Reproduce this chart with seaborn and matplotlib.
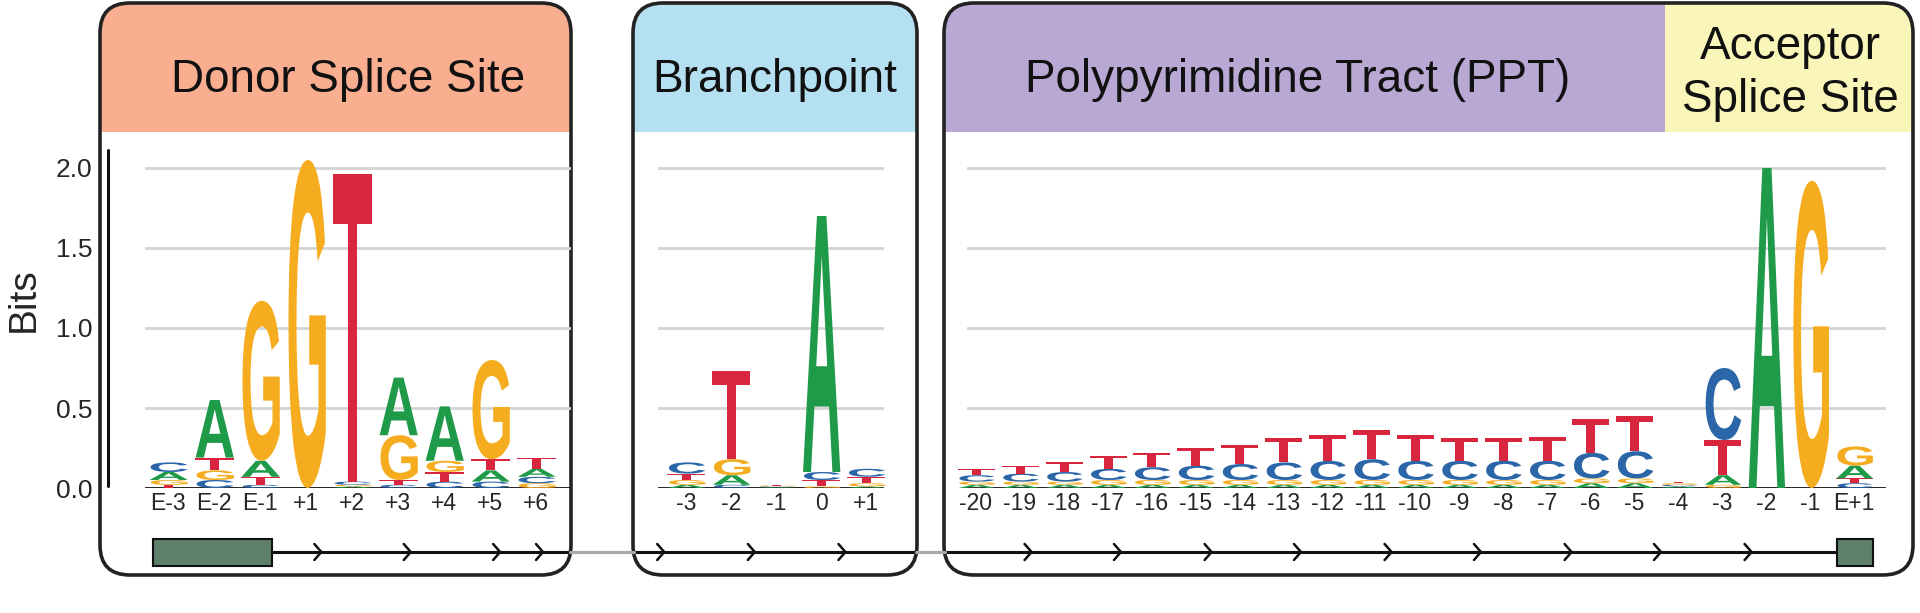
import numpy as np
import matplotlib
matplotlib.use("Agg")
import matplotlib.pyplot as plt
import seaborn as sns
from matplotlib.textpath import TextPath
from matplotlib.font_manager import FontProperties
from matplotlib.patches import PathPatch, FancyBboxPatch, Rectangle
from matplotlib.transforms import Affine2D

# ---------------- data (bits per base) ----------------
donor_pos = ["E-3", "E-2", "E-1", "+1", "+2", "+3", "+4", "+5", "+6"]
donor_A = [0.05, 0.36, 0.10, 0.00, 0.01, 0.36, 0.34, 0.07, 0.05]
donor_C = [0.06, 0.05, 0.02, 0.00, 0.02, 0.02, 0.04, 0.04, 0.04]
donor_G = [0.03, 0.06, 1.00, 2.05, 0.01, 0.28, 0.07, 0.62, 0.03]
donor_T = [0.02, 0.08, 0.05, 0.00, 1.92, 0.03, 0.06, 0.07, 0.07]

branch_pos = ["-3", "-2", "-1", "0", "+1"]
branch_A = [0.02, 0.06, 0.005, 1.60, 0.01]
branch_C = [0.07, 0.02, 0.005, 0.05, 0.05]
branch_G = [0.03, 0.10, 0.005, 0.01, 0.02]
branch_T = [0.04, 0.55, 0.005, 0.04, 0.04]

ppt_pos = ["-20", "-19", "-18", "-17", "-16", "-15", "-14", "-13", "-12", "-11",
           "-10", "-9", "-8", "-7", "-6", "-5", "-4", "-3", "-2", "-1", "E+1"]
ppt_A = [0.02, 0.02, 0.02, 0.02, 0.02, 0.02, 0.02, 0.02, 0.02, 0.02,
         0.02, 0.02, 0.02, 0.02, 0.03, 0.03, 0.01, 0.06, 2.00, 0.00, 0.08]
ppt_C = [0.04, 0.05, 0.06, 0.07, 0.08, 0.09, 0.10, 0.11, 0.12, 0.13,
         0.12, 0.12, 0.12, 0.12, 0.16, 0.17, 0.01, 0.45, 0.00, 0.00, 0.03]
ppt_G = [0.02, 0.02, 0.02, 0.03, 0.03, 0.03, 0.03, 0.03, 0.03, 0.03,
         0.03, 0.03, 0.03, 0.03, 0.03, 0.03, 0.01, 0.02, 0.00, 1.92, 0.12]
ppt_T = [0.04, 0.05, 0.06, 0.08, 0.09, 0.11, 0.12, 0.15, 0.16, 0.18,
         0.16, 0.14, 0.14, 0.15, 0.21, 0.22, 0.01, 0.22, 0.00, 0.00, 0.03]

y_ticks = [0.0, 0.5, 1.0, 1.5, 2.0]

# ---------------- style ----------------
sns.set_theme(style="white")
pal = sns.color_palette(["#1E9A48", "#2B66A8", "#F5AC1E", "#D7263D"])
COL = dict(zip("ACGT", pal))
FONT = "Liberation Sans"
fp = FontProperties(family=FONT, weight="bold")

W, H = 1920, 613
fig = plt.figure(figsize=(W / 100, H / 100), dpi=100)
bg = fig.add_axes([0, 0, 1, 1])
bg.set_xlim(0, W); bg.set_ylim(H, 0); bg.axis("off")

R = 30
def box(x0, x1, y0, y1, head_col, head_y1):
    bg.add_patch(FancyBboxPatch((x0 + R, y0 + R), x1 - x0 - 2 * R, y1 - y0 - 2 * R,
                                boxstyle=f"round,pad={R}", fc="white", ec="none", zorder=1))
    bg.add_patch(FancyBboxPatch((x0 + R, y0 + R), x1 - x0 - 2 * R, head_y1 - y0 - R,
                                boxstyle=f"round,pad={R}", fc=head_col, ec="none", zorder=2))
    bg.add_patch(Rectangle((x0, head_y1), x1 - x0, R + 2, fc="white", ec="none", zorder=2.5))
    bg.add_patch(FancyBboxPatch((x0 + R, y0 + R), x1 - x0 - 2 * R, y1 - y0 - 2 * R,
                                boxstyle=f"round,pad={R}", fc="none", ec="#222222", lw=2.6, zorder=5))

box(100, 571, 3, 575, "#F9AE90", 132)
box(633, 917, 3, 575, "#B5E0F2", 132)
box(944, 1913, 3, 575, "#B9A8D3", 132)
# acceptor header
bg.add_patch(FancyBboxPatch((1665 + R, 3 + R), 1913 - 1665 - 2 * R, 132 - 3 - R,
                            boxstyle=f"round,pad={R}", fc="#FAF6B9", ec="none", zorder=3))
bg.add_patch(Rectangle((1665, 3), R + 2, 129, fc="#FAF6B9", ec="none", zorder=3))
bg.add_patch(Rectangle((1665, 132), 250, R + 2, fc="white", ec="none", zorder=3))

hkw = dict(fontsize=33, family=FONT, ha="center", va="center", color="#111111", zorder=6)
bg.text(348, 80, "Donor Splice Site", **hkw)
bg.text(775, 80, "Branchpoint", **hkw)
bg.text(1298, 80, "Polypyrimidine Tract (PPT)", **hkw)
bg.text(1790, 47, "Acceptor", **hkw)
bg.text(1790, 100, "Splice Site", **hkw)

# y axis
bg.plot([108, 108], [150, 486], color="#111111", lw=2.2, zorder=6)
bg.text(24, 300, "Bits", rotation=90, fontsize=28, family=FONT, ha="center", va="center", zorder=6)

# bottom track
bg.plot([153, 1849], [552, 552], color="#111111", lw=2.2, zorder=4)
for a, b in [(571, 633), (917, 944)]:
    bg.plot([a - 1, b + 1], [552, 552], color="#aaaaaa", lw=2.2, zorder=6)
bg.add_patch(Rectangle((153, 539), 119, 27, fc="#5E7F6A", ec="#111111", lw=1.5, zorder=6))
bg.add_patch(Rectangle((1837, 539), 36, 27, fc="#5E7F6A", ec="#111111", lw=1.5, zorder=6))
for xp in [260, 333, 406, 441, 540, 614, 688, 840, 913, 987, 1060, 1134, 1207, 1281, 1354, 1428]:
    xr = xp * 1.2245
    bg.plot([xr - 4, xr + 3, xr - 4], [544, 552, 560], color="#111111", lw=1.8, zorder=6)

Y0 = 488
PXB = 160
YTOP = 2.15

def letter(ax, ch, xc, y0, h, w=0.86):
    if h <= 0:
        return
    tp = TextPath((0, 0), ch, size=1, prop=fp)
    v = tp.vertices
    xmin, ymin = v.min(axis=0); xmax, ymax = v.max(axis=0)
    tr = Affine2D().translate(-xmin, -ymin).scale(w / (xmax - xmin), h / (ymax - ymin)).translate(xc - w / 2, y0)
    ax.add_patch(PathPatch(tr.transform_path(tp), fc=COL[ch], ec="none", clip_on=False, zorder=3))

def logo(left_px, c0_px, step, right_px, labels, A, C, G, T):
    x0 = (left_px - c0_px) / step
    x1 = (right_px - c0_px) / step
    ax = fig.add_axes([left_px / W, (H - Y0) / H, (right_px - left_px) / W, YTOP * PXB / H])
    ax.set_xlim(x0, x1); ax.set_ylim(0, YTOP)
    ax.patch.set_alpha(0)
    for s in ax.spines.values():
        s.set_visible(False)
    for yv in y_ticks[1:]:
        ax.axhline(yv, color="#d4d4d4", lw=2, zorder=1)
    ax.axhline(0, color="#111111", lw=2, zorder=2)
    for i in range(len(labels)):
        vals = sorted(zip([A[i], C[i], G[i], T[i]], "ACGT"))
        y = 0
        for h, ch in vals:
            letter(ax, ch, i, y, h)
            y += h
    ax.set_xticks(range(len(labels)))
    ax.set_xticklabels(labels, fontsize=16.5, family=FONT)
    ax.tick_params(axis="x", length=0, pad=3)
    ax.set_yticks([])
    return ax

axd = logo(145, 168, 46, 571, donor_pos, donor_A, donor_C, donor_G, donor_T)
axd.set_yticks(y_ticks)
axd.set_yticklabels([f"{v:.1f}" for v in y_ticks], fontsize=19, family=FONT)
axd.tick_params(axis="y", length=0, pad=38)
logo(658, 686, 45, 884, branch_pos, branch_A, branch_C, branch_G, branch_T)
logo(967, 976, 43.9, 1886, ppt_pos, ppt_A, ppt_C, ppt_G, ppt_T)

fig.savefig("out.png", dpi=100)
